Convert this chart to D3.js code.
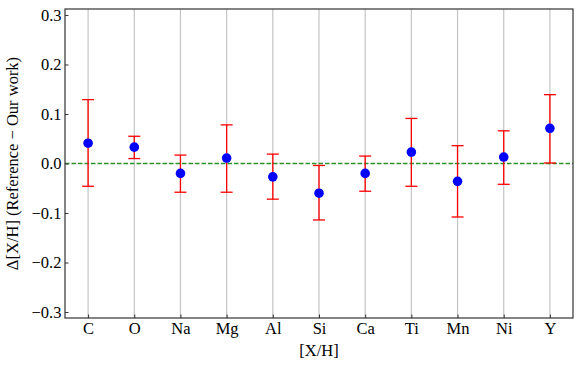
<!DOCTYPE html>
<html>
<head>
<meta charset="utf-8">
<script src="https://cdn.jsdelivr.net/npm/d3@7"></script>
<style>
  body { margin: 0; background: #fff; }
</style>
</head>
<body>
<div id="chart"></div>
<script>
// elements on the x axis
const elements = ["C", "O", "Na", "Mg", "Al", "Si", "Ca", "Ti", "Mn", "Ni", "Y"];
// difference (reference - our work) and the error bar ends
const diff  = [0.041, 0.033, -0.020, 0.011, -0.027, -0.060, -0.020, 0.023, -0.036, 0.013, 0.071];
const upper = [0.129, 0.055, 0.017, 0.078, 0.019, -0.004, 0.015, 0.091, 0.036, 0.066, 0.139];
const lower = [-0.046, 0.010, -0.058, -0.058, -0.072, -0.114, -0.056, -0.046, -0.108, -0.042, 0.001];
const yTicks = [-0.3, -0.2, -0.1, 0.0, 0.1, 0.2, 0.3];

const W = 581, H = 366;
const margin = { top: 9, right: 8, bottom: 48, left: 65 };
const width = W - margin.left - margin.right,
    height = H - margin.top - margin.bottom;
const FONT = "Liberation Serif, Times New Roman, Times, serif";
const FS = 16.5;

const svg = d3.select("#chart")
    .append("svg")
    .attr("width", W)
    .attr("height", H)
    .attr("font-family", FONT);

const g = svg.append("g")
    .attr("transform", `translate(${margin.left},${margin.top})`);

const x = d3.scaleLinear()
    .domain([-0.5, elements.length - 0.5])
    .range([0, width]);

const y = d3.scaleLinear()
    .domain([-0.312, 0.312])
    .range([height, 0]);

// vertical grid at every element
g.selectAll(".grid")
    .data(elements)
    .join("line")
    .attr("x1", (d, i) => x(i))
    .attr("x2", (d, i) => x(i))
    .attr("y1", 0)
    .attr("y2", height)
    .attr("stroke", "#c4c4c4")
    .attr("stroke-width", 1.2);

// zero line
g.append("line")
    .attr("x1", 0).attr("x2", width)
    .attr("y1", y(0)).attr("y2", y(0))
    .attr("stroke", "#2a922a")
    .attr("stroke-width", 1.3)
    .attr("stroke-dasharray", "4.5,2");

// error bars
const err = g.selectAll(".err")
    .data(elements)
    .join("g");
err.append("line")
    .attr("x1", (d, i) => x(i)).attr("x2", (d, i) => x(i))
    .attr("y1", (d, i) => y(upper[i])).attr("y2", (d, i) => y(lower[i]))
    .attr("stroke", "red").attr("stroke-width", 1.3);
err.append("line")
    .attr("x1", (d, i) => x(i) - 6).attr("x2", (d, i) => x(i) + 6)
    .attr("y1", (d, i) => y(upper[i])).attr("y2", (d, i) => y(upper[i]))
    .attr("stroke", "red").attr("stroke-width", 1.3);
err.append("line")
    .attr("x1", (d, i) => x(i) - 6).attr("x2", (d, i) => x(i) + 6)
    .attr("y1", (d, i) => y(lower[i])).attr("y2", (d, i) => y(lower[i]))
    .attr("stroke", "red").attr("stroke-width", 1.3);

// points
g.selectAll(".pt")
    .data(diff)
    .join("circle")
    .attr("cx", (d, i) => x(i))
    .attr("cy", d => y(d))
    .attr("r", 4.8)
    .attr("fill", "#0000ff");

// axes
const xAxis = g.append("g")
    .attr("transform", `translate(0,${height})`)
    .call(d3.axisBottom(x)
        .tickValues(d3.range(elements.length))
        .tickFormat(i => elements[i])
        .tickSizeInner(-3.5).tickSizeOuter(0).tickPadding(4));

const yAxis = g.append("g")
    .call(d3.axisLeft(y)
        .tickValues(yTicks)
        .tickFormat(d => d3.format(".1f")(d).replace("-", "\u2212"))
        .tickSizeInner(-3.5).tickSizeOuter(0).tickPadding(3.5));

[xAxis, yAxis].forEach(a => {
    a.attr("font-family", FONT).attr("font-size", FS);
    a.select(".domain").remove();
    a.selectAll(".tick line").attr("stroke", "#333");
    a.selectAll(".tick text").attr("fill", "#000");
});

// frame
g.append("rect")
    .attr("width", width).attr("height", height)
    .attr("fill", "none")
    .attr("stroke", "#333")
    .attr("stroke-width", 1.2);

// axis labels
svg.append("text")
    .attr("x", margin.left + width / 2)
    .attr("y", 356)
    .attr("text-anchor", "middle")
    .attr("font-size", FS)
    .text("[X/H]");

svg.append("text")
    .attr("transform", `translate(18,${margin.top + y(0)}) rotate(-90)`)
    .attr("text-anchor", "middle")
    .attr("font-size", FS)
    .text("\u0394[X/H] (Reference \u2212 Our work)");
</script>
</body>
</html>
